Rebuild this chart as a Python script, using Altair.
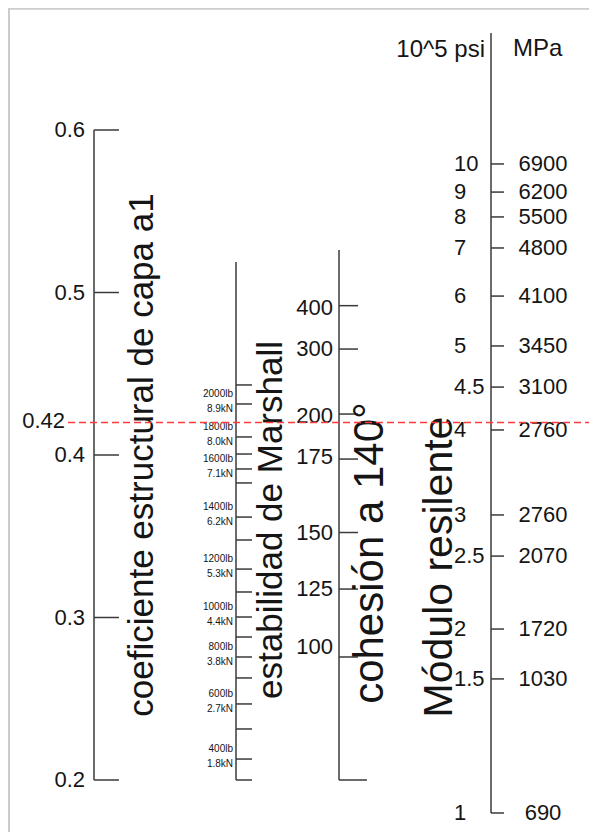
import altair as alt
import pandas as pd

# ---------------- data read from the nomograph ----------------
# left scale: coeficiente estructural de capa a1
a1_ticks = [0.2, 0.3, 0.4, 0.5, 0.6]
a1_labels = ["0.2", "0.3", "0.4", "0.5", "0.6"]
a1_span = [0.2, 0.6]
a1_ref = [0.42]
a1_ref_label = ["0.42"]

# Marshall stability scale (position expressed as the equivalent a1 value)
marshall_lb = ["400lb", "600lb", "800lb", "1000lb", "1200lb", "1400lb", "1600lb", "1800lb", "2000lb"]
marshall_kn = ["1.8kN", "2.7kN", "3.8kN", "4.4kN", "5.3kN", "6.2kN", "7.1kN", "8.0kN", "8.9kN"]
marshall_a1 = [0.2129, 0.2468, 0.2757, 0.3003, 0.3298, 0.3618, 0.3914, 0.4111, 0.4314]
marshall_minor_a1 = [0.2, 0.2314, 0.2628, 0.2880, 0.3157, 0.3477, 0.3828, 0.4006, 0.4431]
marshall_span = [0.2, 0.5188]

# cohesion at 140 degrees
cohesion_labels = ["100", "125", "150", "175", "200", "300", "400"]
cohesion_a1 = [0.2757, 0.3175, 0.3523, 0.3975, 0.4252, 0.4652, 0.4919]
cohesion_label_a1 = [0.2818, 0.3175, 0.3523, 0.3987, 0.4240, 0.4652, 0.4907]
cohesion_minor_a1 = [0.2]
cohesion_span = [0.2, 0.5262]

# resilient modulus
mod_psi = ["1", "1.5", "2", "2.5", "3", "4", "4.5", "5", "6", "7", "8", "9", "10"]
mod_mpa = ["690", "1030", "1720", "2070", "2760", "2760", "3100", "3450", "4100", "4800", "5500", "6200", "6900"]
mod_a1 = [0.1797, 0.2622, 0.2929, 0.3378, 0.3631, 0.4154, 0.4418, 0.4671, 0.4978, 0.5274, 0.5465, 0.5618, 0.5791]
mod_span = [0.1797, 0.6597]

titles = ["coeficiente estructural de capa a1", "estabilidad de Marshall",
          "cohesión a 140°", "Módulo resilente"]
units = ["10^5 psi", "MPa"]

# ---------------- drawing ----------------
W, H = 581, 824
AX = "#3a3a3a"
TXT = "#151515"
FONT = "Liberation Sans, Arial, sans-serif"

ys = alt.Scale(domain=[0.2, 0.6], range=[772, 122], zero=False, nice=False)


def yenc(field):
    return alt.Y(f"{field}:Q", scale=ys, axis=None)


def vline(span, x):
    df = pd.DataFrame({"lo": [span[0]], "hi": [span[1]]})
    return alt.Chart(df).mark_rule(color=AX, strokeWidth=1.5).encode(
        x=alt.value(x), y=yenc("lo"), y2="hi:Q")


def ticks(vals, x0, x1):
    df = pd.DataFrame({"v": vals})
    return alt.Chart(df).mark_rule(color=AX, strokeWidth=1.5).encode(
        x=alt.value(x0), x2=alt.value(x1), y=yenc("v"))


def labels(vals, texts, x, align, size, dy=0):
    df = pd.DataFrame({"v": vals, "t": texts})
    return alt.Chart(df).mark_text(align=align, baseline="middle", dy=dy,
                                   fontSize=size, font=FONT, color=TXT).encode(
        x=alt.value(x), y=yenc("v"), text="t:N")


def title(txt, x, y, size):
    df = pd.DataFrame({"t": [txt]})
    return alt.Chart(df).mark_text(angle=270, align="center", baseline="alphabetic",
                                   fontSize=size, font=FONT, color=TXT).encode(
        x=alt.value(x), y=alt.value(y), text="t:N")


frame_df = pd.DataFrame({"k": [0]})
frame_left = alt.Chart(frame_df).mark_rule(color="#cccccc", strokeWidth=3).encode(
    x=alt.value(0.5), y=alt.value(0), y2=alt.value(H))
frame_top = alt.Chart(frame_df).mark_rule(color="#cccccc", strokeWidth=2.5).encode(
    y=alt.value(0.5), x=alt.value(0), x2=alt.value(W))

ref_df = pd.DataFrame({"v": a1_ref, "t": a1_ref_label})
ref_line = alt.Chart(ref_df).mark_rule(color="#ff3b3b", strokeWidth=1.5,
                                       strokeDash=[7, 4]).encode(
    x=alt.value(60), x2=alt.value(W), y=yenc("v"))
ref_label = labels(a1_ref, a1_ref_label, 57, "right", 22, dy=-2)

psi_txt = alt.Chart(pd.DataFrame({"t": [units[0]]})).mark_text(
    align="right", baseline="alphabetic", fontSize=24, font=FONT, color=TXT).encode(
    x=alt.value(477), y=alt.value(49), text="t:N")
mpa_txt = alt.Chart(pd.DataFrame({"t": [units[1]]})).mark_text(
    align="left", baseline="alphabetic", fontSize=24, font=FONT, color=TXT).encode(
    x=alt.value(505), y=alt.value(48), text="t:N")

layers = [
    frame_left, frame_top,
    # a1 scale
    vline(a1_span, 86), ticks(a1_ticks, 86, 111),
    labels(a1_ticks, a1_labels, 77, "right", 22),
    # Marshall
    vline(marshall_span, 228), ticks(marshall_a1, 228, 244), ticks(marshall_minor_a1, 228, 244),
    labels(marshall_a1, marshall_lb, 225, "right", 10, dy=-10),
    labels(marshall_a1, marshall_kn, 225, "right", 10, dy=5),
    # cohesion
    vline(cohesion_span, 331), ticks(cohesion_a1, 331, 350), ticks(cohesion_minor_a1, 331, 359),
    labels(cohesion_label_a1, cohesion_labels, 325, "right", 22),
    # modulus
    vline(mod_span, 483), ticks(mod_a1, 483, 496),
    labels(mod_a1, mod_psi, 446, "left", 22),
    labels(mod_a1, mod_mpa, 535, "center", 22),
    psi_txt, mpa_txt,
    # titles
    title(titles[0], 145, 447, 35),
    title(titles[1], 274, 512, 35),
    title(titles[2], 375, 545, 42),
    title(titles[3], 444, 559, 41),
    # reference line
    ref_line, ref_label,
]

chart = alt.layer(*layers).properties(
    width=W, height=H, padding=0,
    autosize=alt.AutoSizeParams(type="none"),
).configure_view(stroke=None)

chart.save("out.html", embed_options={"renderer": "svg", "actions": False})
